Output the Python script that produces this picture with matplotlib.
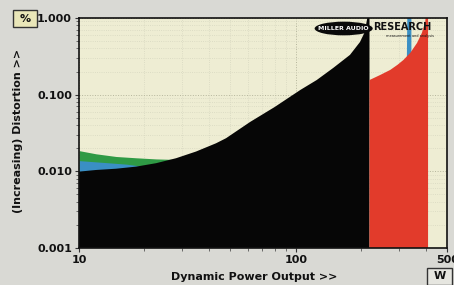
import matplotlib
matplotlib.use("Agg")
import matplotlib.pyplot as plt
from matplotlib.patches import Ellipse, Rectangle
from matplotlib.ticker import FixedLocator, FixedFormatter, LogLocator, NullFormatter

# power (W) and distortion (%)
black_w = [10, 11.98, 14.82, 18.33, 22.68, 28.04, 34.68, 42.9, 47.7, 61.6, 80, 105, 125, 149,
           178, 198, 208, 214, 219]
black_d = [0.0099, 0.0104, 0.0108, 0.0115, 0.01275, 0.0148, 0.0181, 0.0232, 0.027, 0.044, 0.069,
           0.115, 0.155, 0.223, 0.33, 0.486, 0.65, 1.0, 1.5]

green_w = [10, 11.98, 14.82, 18.33, 22.68, 27.2]
green_d = [0.0186, 0.0169, 0.0156, 0.0150, 0.0145, 0.0143]

blue_w = [10, 13.32, 16.48, 19.74]
blue_d = [0.01378, 0.01298, 0.0124, 0.0116]

blue_spike_w = [318, 324, 326, 330, 340]
blue_spike_d = [0.27, 0.29, 1.5, 2.0, 2.0]

red_w = [219, 245, 273, 295, 314, 337.6, 363, 382, 396, 408]
red_d = [0.155, 0.18, 0.21, 0.245, 0.283, 0.35, 0.472, 0.637, 0.89, 2.0]

x_ticks = [10, 100, 500]
x_labels = ["10", "100", "500"]
y_ticks = [0.001, 0.01, 0.1, 1.0]
y_labels = ["0.001", "0.010", "0.100", "1.000"]

fig = plt.figure(figsize=(4.54, 2.85), dpi=100)
fig.patch.set_facecolor("#d9d9d4")
ax = fig.add_axes([0.174, 0.13, 0.811, 0.807])
ax.set_facecolor("#eeedd3")
ax.set_xscale("log")
ax.set_yscale("log")
ax.set_xlim(10, 500)
ax.set_ylim(0.001, 1.0)

ax.fill_between(green_w, 0.005, green_d, color="#2f9a45", lw=0, zorder=2)
ax.fill_between(blue_w, 0.005, blue_d, color="#3a8fc4", lw=0, zorder=3)
ax.fill_between(blue_spike_w, 0.1, blue_spike_d, color="#3a8fc4", lw=0, zorder=3)
ax.fill_between(black_w, 1e-4, black_d, color="#060606", lw=0, zorder=4)
ax.fill_between(red_w, 1e-4, red_d, color="#e23b2b", lw=0, zorder=5)

ax.grid(True, which="major", color="#b5b59c", linestyle=":", linewidth=0.7, zorder=1)
ax.grid(True, which="minor", color="#d7d7c0", linestyle=":", linewidth=0.6, zorder=1)
ax.set_axisbelow(True)

ax.xaxis.set_major_locator(FixedLocator(x_ticks))
ax.xaxis.set_major_formatter(FixedFormatter(x_labels))
ax.xaxis.set_minor_locator(LogLocator(base=10, subs=range(2, 10)))
ax.xaxis.set_minor_formatter(NullFormatter())
ax.yaxis.set_major_locator(FixedLocator(y_ticks))
ax.yaxis.set_major_formatter(FixedFormatter(y_labels))
ax.yaxis.set_minor_locator(LogLocator(base=10, subs=range(2, 10)))
ax.yaxis.set_minor_formatter(NullFormatter())

ax.tick_params(which="major", direction="out", length=3, width=0.8, color="#333333",
               labelsize=8, pad=2)
ax.tick_params(which="minor", direction="out", length=2, width=0.6, color="#555555")
for lab in ax.get_xticklabels() + ax.get_yticklabels():
    lab.set_fontweight("bold")
    lab.set_color("#111111")

for s in ax.spines.values():
    s.set_linewidth(1.2)
    s.set_color("#111111")
    s.set_zorder(10)

fig.text(0.56, 0.01, "Dynamic Power Output >>", ha="center", va="bottom",
         fontsize=8, fontweight="bold", color="#111111")
fig.text(0.04, 0.54, "(Increasing) Distortion >>", rotation=90, ha="center", va="center",
         fontsize=8, fontweight="bold", color="#111111")

# unit boxes
fig.patches.append(Rectangle((0.0286, 0.905), 0.053, 0.06, transform=fig.transFigure,
                             fc="#e9e6b8", ec="#333333", lw=1))
fig.text(0.055, 0.935, "%", ha="center", va="center", fontsize=8, fontweight="bold",
         color="#111111")
fig.patches.append(Rectangle((0.9405, 0.0), 0.055, 0.06, transform=fig.transFigure,
                             fc="#e6e6e0", ec="#333333", lw=1))
fig.text(0.968, 0.03, "W", ha="center", va="center", fontsize=8, fontweight="bold",
         color="#111111")

# logo
logo = Ellipse((0.757, 0.9), 0.128, 0.048, transform=fig.transFigure, fc="#0a0a0a",
               ec="none", zorder=20)
fig.patches.append(logo)
fig.text(0.757, 0.9, "MILLER AUDIO", ha="center", va="center", fontsize=4.5,
         fontweight="bold", color="white", zorder=21)
fig.text(0.821, 0.905, "RESEARCH", ha="left", va="center", fontsize=7,
         fontweight="bold", color="#111111", zorder=21)
fig.text(0.85, 0.872, "measurement and analysis", ha="left", va="center", fontsize=2.5,
         color="#111111", zorder=21)

fig.savefig("out.png", dpi=100, facecolor=fig.get_facecolor())
